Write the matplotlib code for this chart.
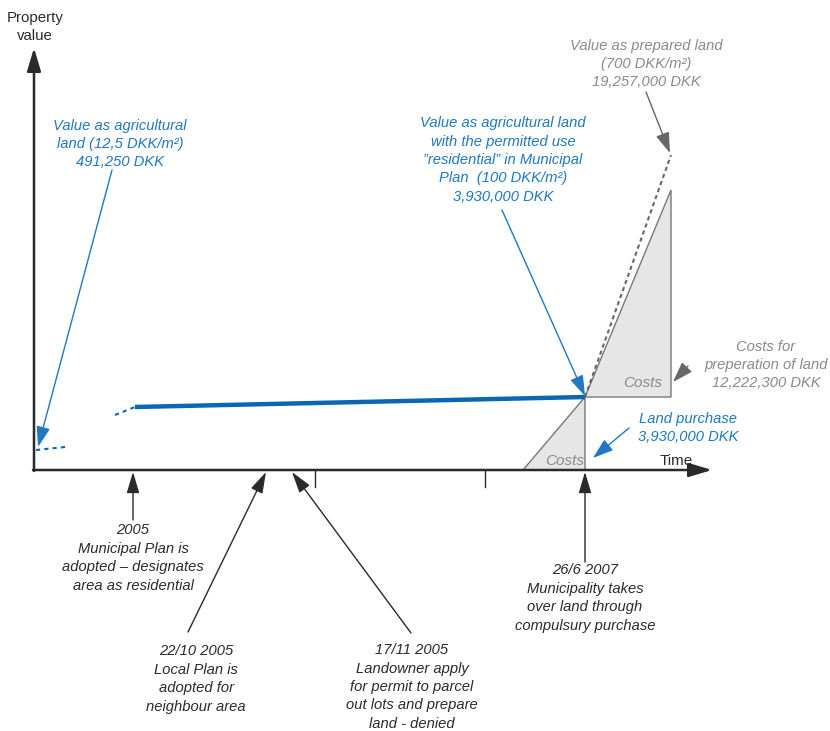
import matplotlib.pyplot as plt
from matplotlib.patches import Polygon

plt.rcParams['font.family'] = ['Liberation Sans', 'DejaVu Sans']
plt.rcParams['font.size'] = 10.6

BLUE = '#1f78c1'
LINEBLUE = '#0a68b3'
GREY = '#8a8a8a'
FILL = '#e6e6e6'
DARK = '#2a2a2a'

# diagram values (pixel space of the original sketch, y grows downward)
axis_origin = (34, 470)
axis_ends = (712, 48)          # time axis end x, value axis end y
time_ticks = [315, 485]

agri_t = [36, 65]
agri_v = [450, 447]
bridge_t = [115, 135]
bridge_v = [415, 407]
resid_t = [135, 585]
resid_v = [407, 397]

purchase_poly = [(523, 470), (585, 397), (585, 470)]
prep_poly = [(585, 397), (671, 190), (671, 397)]
prepared_t = [585, 671]
prepared_v = [397, 155]

top_notes = [
    ("Value as agricultural\nland (12,5 DKK/m\u00b2)\n491,250 DKK", (120, 144), (112, 170), (38, 447), BLUE),
    ("Value as agricultural land\nwith the permitted use\n\u201dresidential\u201d in Municipal\nPlan  (100 DKK/m\u00b2)\n3,930,000 DKK",
     (503, 160), (502, 210), (585, 396), BLUE),
    ("Value as prepared land\n(700 DKK/m\u00b2)\n19,257,000 DKK", (646, 64), (646, 92), (670, 153), GREY),
    ("Costs for\npreperation of land\n12,222,300 DKK", (766, 365), (688, 366), (673, 382), GREY),
    ("Land purchase\n3,930,000 DKK", (688, 428), (629, 428), (593, 458), BLUE),
]

events = [
    ("2005\nMunicipal Plan is\nadopted \u2013 designates\narea as residential", (133, 558), (133, 520), (133, 472)),
    ("22/10 2005\nLocal Plan is\nadopted for\nneighbour area", (196, 679), (188, 632), (266, 472)),
    ("17/11 2005\nLandowner apply\nfor permit to parcel\nout lots and prepare\nland - denied", (412, 687), (411, 633), (292, 472)),
    ("26/6 2007\nMunicipality takes\nover land through\ncompulsury purchase", (585, 598), (585, 562), (585, 472)),
]

fig = plt.figure(figsize=(8.3, 7.31), dpi=100)
ax = fig.add_axes([0, 0, 1, 1])
ax.set_xlim(0, 830)
ax.set_ylim(731, 0)
ax.axis('off')

# grey cost areas
ax.add_patch(Polygon(purchase_poly, closed=True, facecolor=FILL, edgecolor='#777777', lw=1.0, zorder=1))
ax.add_patch(Polygon(prep_poly, closed=True, facecolor=FILL, edgecolor='#777777', lw=1.0, zorder=1))
ax.text(565, 461, "Costs", color=GREY, style='italic', ha='center', va='center', fontsize=11)
ax.text(643, 383, "Costs", color=GREY, style='italic', ha='center', va='center', fontsize=11)

# axes arrows
head = '-|>,head_length=1.0,head_width=0.3'
ox, oy = axis_origin
ax.annotate('', xy=(axis_ends[0], oy), xytext=(ox - 1, oy),
            arrowprops=dict(arrowstyle=head, color=DARK, lw=1.8,
                            mutation_scale=14, shrinkA=0, shrinkB=0), zorder=5)
ax.annotate('', xy=(ox, axis_ends[1]), xytext=(ox, oy + 1),
            arrowprops=dict(arrowstyle=head, color=DARK, lw=1.8,
                            mutation_scale=14, shrinkA=0, shrinkB=0), zorder=5)
for t in time_ticks:
    ax.plot([t, t], [oy, oy + 17], color=DARK, lw=1.0)
ax.text(35, 27, "Property\nvalue", ha='center', va='center', fontsize=10.8, linespacing=1.3, color=DARK)
ax.text(676, 461, "Time", ha='center', va='center', fontsize=11, color=DARK)

# value lines
ax.plot(agri_t, agri_v, color=LINEBLUE, lw=1.5, ls=(0, (2, 2)), zorder=3)
ax.plot(bridge_t, bridge_v, color=LINEBLUE, lw=1.5, ls=(0, (2, 2)), zorder=3)
ax.plot(resid_t, resid_v, color=LINEBLUE, lw=3.2, solid_capstyle='butt', zorder=3)
ax.plot(prepared_t, prepared_v, color='#666666', lw=1.5, ls=(0, (2, 1.6)), zorder=3)

# value annotations
for txt, pos, start, end, col in top_notes:
    ax.text(pos[0], pos[1], txt, color=col, style='italic', ha='center', va='center',
            linespacing=1.4)
    ax.annotate('', xy=end, xytext=start,
                arrowprops=dict(arrowstyle='-|>,head_length=0.9,head_width=0.3',
                                color=col if col == BLUE else '#666666', lw=1.0,
                                mutation_scale=14, shrinkA=0, shrinkB=0), zorder=4)

# timeline events
for txt, pos, start, end in events:
    ax.text(pos[0], pos[1], txt, color=DARK, style='italic', ha='center', va='center',
            linespacing=1.4)
    ax.annotate('', xy=end, xytext=start,
                arrowprops=dict(arrowstyle=head, color=DARK, lw=1.0,
                                mutation_scale=13, shrinkA=0, shrinkB=0), zorder=4)

fig.savefig('out.png', dpi=100, facecolor='white')
